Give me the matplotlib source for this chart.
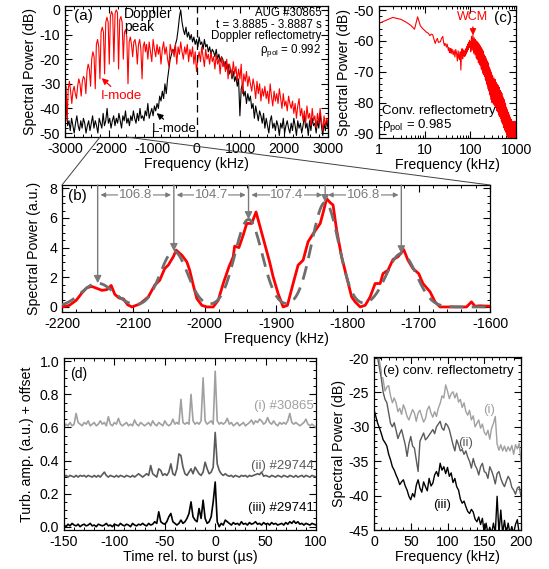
import numpy as np
import matplotlib
matplotlib.use('Agg')
import matplotlib.pyplot as plt
from matplotlib.patches import ConnectionPatch
from matplotlib.ticker import MultipleLocator, FixedLocator, NullFormatter, LogLocator, FormatStrFormatter

plt.rcParams['font.family'] = ['Liberation Sans', 'DejaVu Sans']
plt.rcParams['mathtext.fontset'] = 'custom'
plt.rcParams['mathtext.rm'] = 'Liberation Sans'
plt.rcParams['mathtext.it'] = 'Liberation Sans:italic'
plt.rcParams['axes.unicode_minus'] = False
plt.rcParams['font.size'] = 10.2
plt.rcParams['axes.linewidth'] = 0.9
for a in 'xy':
    plt.rcParams[a + 'tick.direction'] = 'in'
    plt.rcParams[a + 'tick.major.size'] = 5
    plt.rcParams[a + 'tick.minor.size'] = 2.5
    plt.rcParams[a + 'tick.major.width'] = 0.8
    plt.rcParams[a + 'tick.minor.width'] = 0.7
    plt.rcParams[a + 'tick.minor.visible'] = True
plt.rcParams['xtick.top'] = True
plt.rcParams['ytick.right'] = True

# ---------------- Panel (a) data ----------------
# I-mode (red): comb part at negative frequencies
red_comb_f = [-3000, -2975, -2952, -2926, -2899, -2872, -2845, -2819, -2792, -2765, -2738, -2712,
              -2685, -2658, -2631, -2605, -2578, -2551, -2524, -2498, -2471, -2444, -2417, -2391,
              -2364, -2337, -2310, -2284, -2257, -2230, -2203, -2177, -2150, -2123, -2097, -2070,
              -2043, -2016, -1990, -1964, -1938, -1911, -1885, -1858, -1831, -1804, -1778, -1751,
              -1724, -1697, -1670, -1644, -1617, -1590, -1563, -1537, -1510, -1483, -1456, -1430,
              -1403, -1376, -1350, -1323, -1296, -1269, -1242, -1216, -1189, -1165]
red_comb_db = [-46, -31, -45, -32, -29, -33, -38, -33, -31, -34, -36, -31,
               -28, -30, -35, -29, -27, -28, -34, -25, -22, -24, -31, -20,
               -17, -19, -32, -14, -12, -15, -28, -9, -7, -9, -26, -5,
               -3, -5, -22, -2.5, -0.6, -2, -21, -1.5, 0, -1, -24, -4,
               -2.7, -5, -20, -9, -8, -11, -30, -13, -11, -14, -19, -13,
               -12, -15, -22, -14, -12, -16, -28, -15, -13, -17]
# I-mode (red): remaining spectrum, 30 kHz sampling from -1140 kHz
red_rest_f0, red_rest_df = -1140, 30
red_rest_db = [-14, -20, -13, -17, -21, -12, -16, -19, -14, -18,
               -15, -22, -16, -13, -18, -15, -20, -23, -14, -17,
               -16, -19, -14, -22, -15, -18, -13, -17, -20, -15,
               -18, -14, -21, -16, -19, -15, -22, -17, -25, -20,
               -17, -21, -15, -19, -23, -16, -20, -18, -22, -17,
               -21, -19, -24, -18, -22, -20, -26, -19, -23, -21,
               -25, -20, -28, -22, -24, -27, -21, -26, -23, -29,
               -24, -28, -22, -34, -26, -29, -25, -31, -27, -30,
               -33, -28, -31, -36, -29, -34, -30, -37, -32, -35,
               -31, -36, -33, -38, -30, -35, -39, -33, -37, -34,
               -38, -32, -36, -40, -34, -39, -37, -41, -35, -38,
               -40, -37, -42, -38, -44, -39, -36, -43, -40, -45,
               -41, -46, -39, -44, -42, -47, -40, -45, -43, -48,
               -42, -46, -40, -45, -49, -43, -47, -44, -46]
# L-mode (black): 30 kHz sampling from -3000 kHz
black_f0, black_df = -3000, 30
black_db = [-48, -37, -47, -45, -49, -44, -47, -50, -46, -43,
            -47, -49, -45, -48, -44, -46, -50, -47, -45, -49,
            -46, -43, -48, -45, -47, -50, -44, -46, -48, -42,
            -47, -45, -40, -46, -44, -48, -45, -43, -47, -44,
            -46, -42, -45, -48, -43, -45, -41, -46, -44, -47,
            -43, -45, -41, -44, -46, -42, -45, -40, -44, -43,
            -45, -41, -43, -38, -44, -42, -40, -43, -39, -41,
            -38, -40, -35, -37, -33, -36, -30, -34, -28, -24,
            -20, -18, -16, -17, -14, -12, -8, -3, 0, -5,
            -8, -10, -7, -11, -9, -12, -10, -13, -11, -14,
            -12, -15, -11, -14, -13, -16, -12, -15, -14, -17,
            -15, -18, -16, -17, -19, -16, -20, -18, -21, -19,
            -20, -23, -21, -24, -22, -26, -24, -28, -25, -29,
            -27, -31, -28, -43, -32, -30, -35, -33, -38, -34,
            -37, -35, -40, -38, -44, -39, -42, -45, -41, -43,
            -46, -42, -48, -44, -47, -50, -45, -43, -48, -46,
            -49, -45, -47, -51, -46, -48, -44, -50, -47, -45,
            -48, -50, -46, -49, -44, -47, -51, -45, -48, -46,
            -50, -47, -43, -48, -46, -51, -45, -49, -44, -47,
            -46, -50, -45, -48, -42, -47, -51, -46, -49, -45,
            -48]

# ---------------- Panel (b) data ----------------
b_f = [-2200, -2190, -2180, -2172, -2165, -2158, -2151, -2144, -2137, -2131, -2126, -2120, -2114,
       -2108, -2102, -2091, -2079, -2070, -2063, -2056, -2051, -2044, -2040, -2032, -2025, -2021,
       -2016, -2011, -2004, -1997, -1988, -1981, -1974, -1966, -1960, -1958, -1952, -1946, -1941,
       -1934, -1928, -1923, -1916, -1909, -1904, -1897, -1890, -1884, -1876, -1869, -1862, -1855,
       -1846, -1838, -1833, -1829, -1824, -1820, -1815, -1808, -1801, -1794, -1789, -1782, -1775,
       -1768, -1761, -1754, -1750, -1743, -1736, -1729, -1721, -1715, -1708, -1700, -1694, -1684,
       -1677, -1670, -1633, -1626, -1621, -1614, -1600]
b_pow = [0.0, 0.1, 0.45, 0.95, 1.3, 1.38, 1.25, 1.12, 1.17, 1.45, 0.85, 0.6, 0.55,
         0.15, 0.0, 0.2, 0.68, 1.47, 1.8, 2.59, 2.82, 3.38, 3.83, 3.49, 3.04, 2.48,
         1.47, 0.57, 0.11, 0.0, 0.0, 0.45, 1.58, 2.7, 3.38, 4.1, 4.0, 4.84, 5.63,
         5.63, 6.4, 5.52, 4.28, 3.04, 2.03, 0.9, 0.0, 0.11, 1.58, 2.82, 3.15, 4.4,
         5.07, 5.63, 6.53, 7.3, 7.03, 6.87, 5.18, 3.38, 2.03, 0.68, 0.34, 0.0, 0.11,
         0.68, 1.58, 1.58, 2.25, 2.48, 3.2, 3.38, 3.87, 3.15, 2.59, 2.25, 1.58, 1.02,
         0.34, 0.0, 0.0, 0.34, 0.05, 0.08, 0.05]
fit_center = [-2150.0, -2043.2, -1938.5, -1831.1, -1724.3]
fit_amp = [1.6, 3.75, 5.9, 7.05, 3.6]
fit_sigma = [23, 19, 19, 19, 21]
spacing_labels = ['106.8', '104.7', '107.4', '106.8']

# ---------------- Panel (c) data ----------------
c_f = np.concatenate([np.arange(1, 41), np.arange(42, 101, 2), np.arange(102, 300, 4), np.arange(300, 1001, 10)])
c_db = [-54.3, -52.4, -53.0, -54.0, -55.0, -56.2, -52.2, -55.0, -56.0, -56.6,
        -57.2, -57.5, -58.3, -57.8, -58.0, -59.5, -60.8, -59.8, -59.2, -60.5,
        -60.3, -60.3, -59.5, -58.9, -58.6, -60.5, -61.5, -60.8, -61.3, -62.0,
        -61.0, -61.9, -63.0, -62.2, -63.8, -63.4, -62.5, -64.0, -62.6, -62.9,
        -64.5, -63.0, -65.2, -62.8, -64.0, -66.5, -63.2, -65.5, -66.1, -63.5,
        -69.4, -64.2, -62.5, -65.8, -64.0, -62.9, -65.0, -63.4, -64.8, -62.5,
        -64.2, -61.8, -63.5, -61.0, -62.8, -60.5, -62.2, -59.8, -61.5, -60.2,
        -63.5, -58.5, -63.0, -58.0, -64.0, -59.0, -64.5, -59.5, -65.5, -60.0,
        -66.0, -60.5, -67.0, -61.0, -67.5, -61.5, -68.0, -62.0, -69.0, -62.5,
        -69.5, -63.0, -70.5, -63.5, -71.0, -64.5, -71.5, -65.0, -72.5, -65.5,
        -73.0, -66.0, -74.0, -66.5, -74.5, -67.0, -75.5, -67.5, -76.0, -68.5,
        -76.5, -69.0, -77.5, -69.5, -78.0, -70.0, -79.0, -70.5, -79.5, -71.0,
        -80.0, -71.5, -80.5, -72.0, -81.0, -72.5, -81.5, -73.5, -82.5, -74.0,
        -83.0, -74.5, -84.0, -75.0, -84.5, -76.0, -85.0, -76.5, -86.0, -77.0,
        -86.5, -78.0, -87.0, -78.5, -88.0, -79.0, -88.5, -80.0, -89.0, -80.5,
        -89.5, -81.5, -90.0, -82.0, -90.5, -82.5, -91.0, -83.0, -91.4, -83.5,
        -91.4, -84.0, -91.4, -84.5, -91.4, -85.0, -91.4, -85.5, -91.4, -85.5,
        -91.4, -86.0, -91.4, -86.0, -91.4, -86.5, -91.4, -86.5, -91.4, -87.0,
        -91.4, -86.0, -91.4, -87.0, -91.4, -86.5, -91.4, -86.0, -91.4, -87.5,
        -88.0]

# ---------------- Panel (d) data ----------------
d_t = np.arange(-150, 101, 2)
d_i = [0.60, 0.62, 0.61, 0.63, 0.61, 0.62, 0.685, 0.63, 0.62, 0.61,
       0.63, 0.62, 0.64, 0.61, 0.62, 0.63, 0.61, 0.62, 0.64, 0.62,
       0.63, 0.61, 0.665, 0.62, 0.61, 0.63, 0.62, 0.655, 0.62, 0.61,
       0.62, 0.63, 0.61, 0.62, 0.61, 0.645, 0.62, 0.61, 0.63, 0.62,
       0.61, 0.62, 0.63, 0.61, 0.64, 0.62, 0.61, 0.63, 0.62, 0.61,
       0.64, 0.62, 0.61, 0.62, 0.65, 0.62, 0.63, 0.62, 0.77, 0.63,
       0.62, 0.63, 0.62, 0.80, 0.64, 0.62, 0.63, 0.62, 0.64, 0.90,
       0.64, 0.62, 0.63, 0.64, 0.62, 0.94, 0.64, 0.62, 0.63, 0.62,
       0.63, 0.655, 0.62, 0.63, 0.61, 0.62, 0.63, 0.61, 0.62, 0.63,
       0.61, 0.62, 0.63, 0.645, 0.62, 0.64, 0.63, 0.65, 0.64, 0.62,
       0.63, 0.66, 0.63, 0.62, 0.64, 0.62, 0.61, 0.63, 0.62, 0.63,
       0.62, 0.64, 0.685, 0.63, 0.62, 0.63, 0.62, 0.61, 0.62, 0.63,
       0.65, 0.62, 0.61, 0.62, 0.61, 0.60]
d_ii = [0.30, 0.31, 0.30, 0.31, 0.305, 0.30, 0.31, 0.30, 0.31, 0.305,
        0.31, 0.30, 0.31, 0.305, 0.30, 0.31, 0.30, 0.31, 0.30, 0.315,
        0.33, 0.31, 0.30, 0.31, 0.305, 0.30, 0.31, 0.30, 0.31, 0.305,
        0.30, 0.31, 0.305, 0.30, 0.31, 0.30, 0.31, 0.32, 0.31, 0.30,
        0.31, 0.32, 0.31, 0.37, 0.32, 0.31, 0.30, 0.35, 0.34, 0.31,
        0.32, 0.31, 0.33, 0.38, 0.32, 0.31, 0.35, 0.44, 0.43, 0.36,
        0.32, 0.31, 0.33, 0.35, 0.32, 0.36, 0.34, 0.32, 0.31, 0.33,
        0.39, 0.35, 0.32, 0.33, 0.36, 0.57, 0.38, 0.34, 0.32, 0.31,
        0.32, 0.31, 0.305, 0.31, 0.30, 0.31, 0.305, 0.30, 0.31, 0.305,
        0.31, 0.30, 0.31, 0.305, 0.31, 0.315, 0.32, 0.315, 0.33, 0.305,
        0.31, 0.305, 0.30, 0.31, 0.305, 0.30, 0.31, 0.305, 0.30, 0.31,
        0.305, 0.30, 0.31, 0.305, 0.30, 0.31, 0.30, 0.305, 0.31, 0.30,
        0.31, 0.305, 0.30, 0.31, 0.305, 0.30]
d_iii = [0.01, 0.0, 0.015, 0.005, 0.02, 0.01, 0.005, 0.015, 0.0, 0.01,
         0.015, 0.005, 0.01, 0.02, 0.005, 0.01, 0.0, 0.015, 0.01, 0.005,
         0.01, 0.02, 0.005, 0.01, 0.0, 0.015, 0.01, 0.005, 0.02, 0.01,
         0.005, 0.015, 0.01, 0.0, 0.02, 0.01, 0.005, 0.015, 0.01, 0.02,
         0.01, 0.005, 0.02, 0.01, 0.015, 0.03, 0.02, 0.09, 0.03, 0.02,
         0.015, 0.03, 0.06, 0.08, 0.03, 0.02, 0.01, 0.02, 0.04, 0.02,
         0.03, 0.05, 0.08, 0.15, 0.06, 0.04, 0.03, 0.11, 0.05, 0.16,
         0.05, 0.02, 0.03, 0.06, 0.15, 0.27, 0.03, 0.0, 0.02, 0.01,
         0.04, 0.03, 0.02, 0.01, 0.025, 0.015, 0.02, 0.01, 0.03, 0.015,
         0.02, 0.01, 0.025, 0.015, 0.02, 0.03, 0.015, 0.02, 0.01, 0.025,
         0.015, 0.02, 0.01, 0.025, 0.015, 0.02, 0.01, 0.015, 0.02, 0.01,
         0.025, 0.015, 0.03, 0.02, 0.035, 0.02, 0.03, 0.015, 0.02, 0.01,
         0.02, 0.015, 0.01, 0.02, 0.015, 0.01]

# ---------------- Panel (e) data ----------------
e_f = np.arange(0, 200.1, 2.5)
e_i = [-12, -15, -18, -20.5, -22, -23.2, -24.8, -24.2, -24, -25.5,
       -26.5, -25.8, -26.5, -27.8, -27.3, -28.2, -26.8, -27.5, -28.5, -29,
       -28.2, -27.5, -28, -29.2, -28, -27.6, -28.5, -29.3, -28.8, -27.5,
       -27, -28, -28.6, -27.8, -28.5, -27.3, -26.6, -25.5, -25.8, -23.9,
       -24.8, -25.9, -25.2, -24.9, -25.8, -25.1, -26.4, -26.0, -27.2, -26.5,
       -27.8, -28.3, -27.6, -29, -28.4, -30, -29.5, -29.0, -30.2, -29.6,
       -30.8, -31.2, -30.5, -31.8, -30.2, -29.5, -28.5, -32.5, -33.4, -32.6,
       -33.5, -32.8, -33.6, -32.9, -33.5, -32.7, -34, -32.6, -33.2, -32.4,
       -35]
e_ii = [-14, -17, -20, -21.5, -23, -25, -26, -26.5, -28, -29.5,
        -30, -29.4, -30.5, -31.7, -31, -30.4, -31.5, -32.6, -34.3, -32.5,
        -31.4, -32.8, -33.1, -34.8, -36.5, -32.1, -31.5, -30.9, -31.9, -31.6,
        -31.2, -30.8, -30.4, -31, -30, -29.6, -29.2, -30.2, -30.5, -29.5,
        -29.8, -30.4, -31.5, -32.6, -33.5, -31.9, -32.6, -33.5, -33.3, -34,
        -33.5, -34.4, -35, -36, -34.6, -35.6, -36.1, -37, -35.8, -35.3,
        -36.5, -36.7, -37.5, -35.8, -36.4, -37.2, -38.3, -36.8, -36.5, -37.5,
        -38.2, -38.7, -37.9, -37.2, -37.7, -38.8, -39.2, -39.8, -38.9, -38.7,
        -40.1]
e_iii = [-27.5, -28.5, -29.5, -30.2, -31, -31.9, -32.3, -32.8, -34, -34.8,
         -35.8, -36.3, -37, -37.6, -38.4, -38, -37.7, -38.6, -39.2, -40.1,
         -40.6, -39.7, -40.2, -38.5, -37.7, -38.9, -39.5, -38, -38.7, -39.3,
         -37.5, -38.6, -38.2, -37, -36.5, -37.2, -35.3, -36.3, -35.8, -36.8,
         -35.9, -37.2, -36.7, -38.1, -37.5, -38.7, -39.2, -40.5, -41.1, -40.8,
         -41.6, -42.3, -42.6, -42, -42.4, -43.4, -43.8, -43.1, -44.2, -43.3,
         -45.5, -44, -45.5, -44.6, -45.5, -44, -45.5, -40.1, -45.5, -42.1,
         -45.5, -43.6, -45.5, -44, -45.5, -44.5, -45.5, -44.2, -43.5, -45.5,
         -45.5]

# ---------------- Figure ----------------
W, H = 549, 569
fig = plt.figure(figsize=(W / 100, H / 100), dpi=100)

def axpx(x0, y0, x1, y1):
    return fig.add_axes([x0 / W, 1 - y1 / H, (x1 - x0) / W, (y1 - y0) / H])

ax_a = axpx(65, 6, 328, 137)
ax_c = axpx(379, 6, 516, 138)
ax_b = axpx(62, 185, 490, 312)
ax_d = axpx(64, 358, 316, 530)
ax_e = axpx(374, 357, 521, 530)

# ---- (a)
red_rest_f = red_rest_f0 + red_rest_df * np.arange(len(red_rest_db))
black_f = black_f0 + black_df * np.arange(len(black_db))
red_f = np.concatenate([red_comb_f, red_rest_f])
red_db = np.concatenate([red_comb_db, red_rest_db])
a_ylim = (-51.6, 1.6)
ax_a.plot(black_f, black_db, color='black', lw=0.8)
ax_a.plot(red_f, red_db, color='red', lw=0.8)
ax_a.axvline(0, color='black', lw=0.9, ls=(0, (6, 4)))
ax_a.set_xlim(-3000, 3000)
ax_a.set_ylim(*a_ylim)
ax_a.xaxis.set_major_locator(MultipleLocator(1000))
ax_a.xaxis.set_minor_locator(MultipleLocator(200))
ax_a.yaxis.set_major_locator(MultipleLocator(10))
ax_a.yaxis.set_minor_locator(MultipleLocator(2))
ax_a.set_xlabel('Frequency (kHz)', labelpad=1)
ax_a.set_ylabel('Spectral Power (dB)', labelpad=2)
ax_a.text(0.035, 0.975, '(a)', transform=ax_a.transAxes, ha='left', va='top', fontsize=11)
ax_a.text(0.225, 0.99, 'Doppler\npeak', transform=ax_a.transAxes, ha='left', va='top',
          fontsize=10, linespacing=0.9)
ax_a.text(0.975, 0.99, 'AUG #30865\nt = 3.8885 - 3.8887 s\nDoppler reflectometry\nρ$_{\\rm pol}$ = 0.992',
          transform=ax_a.transAxes, ha='right', va='top', fontsize=8.3, linespacing=0.95)
ax_a.annotate('I-mode', xy=(-2163, -27.7), xytext=(-1711, -35), color='red', ha='center', va='center',
              fontsize=9.5, arrowprops=dict(arrowstyle='-|>', color='red', lw=0.9, mutation_scale=9, shrinkA=1, shrinkB=0))
ax_a.annotate('L-mode', xy=(-908, -41.9), xytext=(-502, -48.3), color='black', ha='center', va='center',
              fontsize=9.5, arrowprops=dict(arrowstyle='-|>', color='black', lw=0.9, mutation_scale=9, shrinkA=1, shrinkB=0))

# ---- (c)
ax_c.plot(c_f, c_db, color='red', lw=0.8)
ax_c.set_xscale('log')
ax_c.set_xlim(1, 1000)
ax_c.set_ylim(-91.4, -48.7)
ax_c.xaxis.set_major_locator(FixedLocator([1, 10, 100, 1000]))
ax_c.xaxis.set_major_formatter(matplotlib.ticker.FixedFormatter(['1', '10', '100', '1000']))
ax_c.xaxis.set_minor_locator(LogLocator(base=10, subs=np.arange(2, 10)))
ax_c.xaxis.set_minor_formatter(NullFormatter())
ax_c.yaxis.set_major_locator(MultipleLocator(10))
ax_c.yaxis.set_minor_locator(MultipleLocator(2))
ax_c.set_xlabel('Frequency (kHz)', labelpad=1)
ax_c.set_ylabel('Spectral Power (dB)', labelpad=2)
ax_c.text(0.97, 0.96, '(c)', transform=ax_c.transAxes, ha='right', va='top', fontsize=11)
ax_c.text(0.02, 0.03, 'Conv. reflectometry\nρ$_{\\rm pol}$ = 0.985', transform=ax_c.transAxes,
          ha='left', va='bottom', fontsize=9.5, linespacing=1.0)
ax_c.annotate('WCM', xy=(115, -58.2), xytext=(112, -52.2), color='red', ha='center', va='center',
              fontsize=9, arrowprops=dict(arrowstyle='-|>', color='red', lw=1, mutation_scale=9, shrinkA=1, shrinkB=0))

# ---- (b)
b_ylim = (-0.34, 8.22)
fx = np.linspace(-2200, -1600, 601)
fit = np.zeros_like(fx)
for c0, a0, s0 in zip(fit_center, fit_amp, fit_sigma):
    fit += a0 * np.exp(-0.5 * ((fx - c0) / s0) ** 2)
ax_b.plot(b_f, b_pow, color='red', lw=2.0, zorder=3)
ax_b.plot(fx, fit, color='#6e6e6e', lw=2.0, ls=(0, (5, 3)), zorder=4)
arrow_col = '#7a7a7a'
for c0, a0 in zip(fit_center, fit_amp):
    ax_b.annotate('', xy=(c0, a0), xytext=(c0, b_ylim[1]),
                  arrowprops=dict(arrowstyle='-|>', color=arrow_col, lw=1.0, mutation_scale=11, shrinkA=0, shrinkB=0),
                  zorder=5)
for i, lab in enumerate(spacing_labels):
    x0, x1 = fit_center[i], fit_center[i + 1]
    ax_b.annotate('', xy=(x0 + 4, 7.55), xytext=(x1 - 4, 7.55),
                  arrowprops=dict(arrowstyle='<|-|>', color=arrow_col, lw=0.8, mutation_scale=7, shrinkA=0, shrinkB=0))
    ax_b.text((x0 + x1) / 2, 7.55, lab, color=arrow_col, ha='center', va='center', fontsize=9.5,
              bbox=dict(facecolor='white', edgecolor='none', pad=0.5))
ax_b.set_xlim(-2200, -1600)
ax_b.set_ylim(*b_ylim)
ax_b.xaxis.set_major_locator(MultipleLocator(100))
ax_b.xaxis.set_minor_locator(MultipleLocator(20))
ax_b.yaxis.set_major_locator(MultipleLocator(2))
ax_b.yaxis.set_minor_locator(MultipleLocator(0.5))
ax_b.set_xlabel('Frequency (kHz)', labelpad=1)
ax_b.set_ylabel('Spectral Power (a.u.)', labelpad=6)
ax_b.text(0.015, 0.97, '(b)', transform=ax_b.transAxes, ha='left', va='top', fontsize=11)

# zoom connection lines
for xa, xb in ((-2200, 0), (-1600, 1)):
    con = ConnectionPatch(xyA=(xa, a_ylim[0]), coordsA=ax_a.transData, xyB=(xb, 1), coordsB=ax_b.transAxes,
                          color='#404040', lw=0.7)
    fig.add_artist(con)

# ---- (d)
ax_d.plot(d_t, d_i, color='#a0a0a0', lw=1.2)
ax_d.plot(d_t, d_ii, color='#5a5a5a', lw=1.2)
ax_d.plot(d_t, d_iii, color='black', lw=1.2)
ax_d.set_xlim(-150, 100)
ax_d.set_ylim(-0.02, 1.02)
ax_d.xaxis.set_major_locator(MultipleLocator(50))
ax_d.xaxis.set_minor_locator(MultipleLocator(10))
ax_d.yaxis.set_major_locator(MultipleLocator(0.2))
ax_d.yaxis.set_minor_locator(MultipleLocator(0.05))
ax_d.yaxis.set_major_formatter(FormatStrFormatter('%.1f'))
ax_d.set_xlabel('Time rel. to burst (µs)', labelpad=1)
ax_d.set_ylabel('Turb. amp. (a.u.) + offset', labelpad=4)
ax_d.text(0.025, 0.95, '(d)', transform=ax_d.transAxes, ha='left', va='top', fontsize=10)
ax_d.text(98, 0.73, '(i) #30865', color='#a0a0a0', ha='right', va='center', fontsize=9.5)
ax_d.text(98, 0.368, '(ii) #29744', color='#5a5a5a', ha='right', va='center', fontsize=9.5)
ax_d.text(98, 0.11, '(iii) #29741', color='black', ha='right', va='center', fontsize=9.5)

# ---- (e)
ax_e.plot(e_f, e_i, color='#a0a0a0', lw=1.0)
ax_e.plot(e_f, e_ii, color='#5a5a5a', lw=1.0)
ax_e.plot(e_f, e_iii, color='black', lw=1.0)
ax_e.set_xlim(0, 200)
ax_e.set_ylim(-45, -19.85)
ax_e.xaxis.set_major_locator(MultipleLocator(50))
ax_e.xaxis.set_minor_locator(MultipleLocator(10))
ax_e.yaxis.set_major_locator(MultipleLocator(5))
ax_e.yaxis.set_minor_locator(MultipleLocator(1))
ax_e.set_xlabel('Frequency (kHz)', labelpad=1)
ax_e.set_ylabel('Spectral Power (dB)', labelpad=2)
ax_e.text(0.06, 0.955, '(e) conv. reflectometry', transform=ax_e.transAxes, ha='left', va='top', fontsize=9.5,
          bbox=dict(facecolor='white', edgecolor='none', pad=0.3), zorder=5)
ax_e.text(156.5, -27.5, '(i)', color='#a0a0a0', ha='center', va='center', fontsize=9.5)
ax_e.text(124, -32.4, '(ii)', color='#5a5a5a', ha='center', va='center', fontsize=9.5)
ax_e.text(92, -41.4, '(iii)', color='black', ha='center', va='center', fontsize=9.5)

fig.savefig('out.png', dpi=100)
